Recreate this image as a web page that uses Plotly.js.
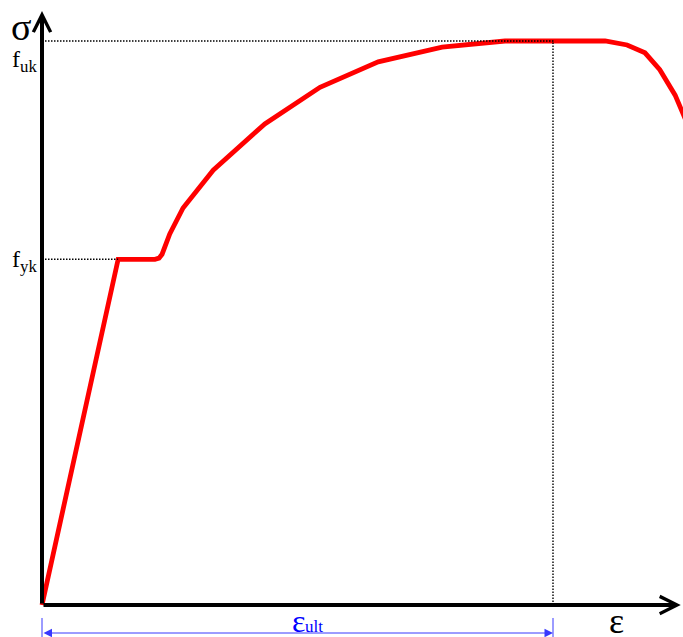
<!DOCTYPE html>
<html>
<head>
<meta charset="utf-8">
<script src="https://cdn.plot.ly/plotly-3.0.1.min.js"></script>
<style>
  html, body { margin: 0; padding: 0; background: #ffffff; }
  #chart { width: 683px; height: 637px; }
</style>
</head>
<body>
<div id="chart"></div>
<script>
// Idealised stress-strain curve of reinforcing steel (arbitrary units)
const strain = [0, 1.49, 2.21, 2.29, 2.35, 2.50, 2.76, 3.35, 4.36, 5.44, 6.58, 7.83, 9.06,
                11.02, 11.45, 11.80, 12.09, 12.39, 12.64];
const stress = [0, 61.3, 61.3, 61.5, 62.2, 65.8, 70.4, 77.1, 85.3, 91.8, 96.3, 98.9, 100,
                100, 99.3, 97.9, 94.9, 90.4, 85.1];

// Characteristic levels
const FYK = 61.3;      // yield strength
const EPS_Y = 1.49;    // strain at first yield
const FUK = 100;       // tensile strength
const EPS_ULT = 10;    // ultimate strain

// Axis extents
const X_MAX = 12.5;
const Y_MAX = 105.3;

const serif = 'Liberation Serif, Times New Roman, serif';
const blue = '#0000ff';
const lineBlue = '#3838ff';

const trace = {
  x: strain,
  y: stress,
  mode: 'lines',
  line: { color: '#ff0000', width: 4.8 },
  hoverinfo: 'skip'
};

const dotted = { color: '#000000', width: 1.4, dash: '1.5px,1.5px' };

const layout = {
  width: 683,
  height: 637,
  margin: { l: 0, r: 0, t: 0, b: 0, pad: 0 },
  paper_bgcolor: '#ffffff',
  plot_bgcolor: '#ffffff',
  showlegend: false,
  xaxis: {
    range: [-0.822, 12.544],
    visible: false,
    fixedrange: true
  },
  yaxis: {
    range: [-5.67, 107.27],
    visible: false,
    fixedrange: true
  },
  shapes: [
    // reference lines for f_uk, f_yk and eps_ult
    { type: 'line', xref: 'x', yref: 'y', x0: 0, x1: EPS_ULT + 0.04, y0: FUK, y1: FUK, line: dotted },
    { type: 'line', xref: 'x', yref: 'y', x0: 0, x1: EPS_Y, y0: FYK, y1: FYK, line: dotted },
    { type: 'line', xref: 'x', yref: 'y', x0: EPS_ULT, x1: EPS_ULT, y0: 0, y1: FUK, line: dotted },
    // extension lines of the eps_ult dimension
    { type: 'line', xref: 'x', yref: 'y', x0: 0, x1: 0, y0: -2.3, y1: -5.7, line: { color: lineBlue, width: 1 } },
    { type: 'line', xref: 'x', yref: 'y', x0: EPS_ULT, x1: EPS_ULT, y0: -2.3, y1: -5.7, line: { color: lineBlue, width: 1 } }
  ],
  annotations: [
    // vertical axis (sigma)
    { x: 0, y: Y_MAX, ax: 0, ay: 0, xref: 'x', yref: 'y', axref: 'x', ayref: 'y',
      text: '', showarrow: true, arrowhead: 5, arrowsize: 0.85, arrowwidth: 4, arrowcolor: '#000000' },
    // horizontal axis (epsilon)
    { x: X_MAX, y: 0, ax: 0, ay: 0, xref: 'x', yref: 'y', axref: 'x', ayref: 'y',
      text: '', showarrow: true, arrowhead: 5, arrowsize: 0.85, arrowwidth: 4, arrowcolor: '#000000' },
    // eps_ult dimension line
    { x: EPS_ULT, y: -4.96, ax: 0, ay: -4.96, xref: 'x', yref: 'y', axref: 'x', ayref: 'y',
      text: '', showarrow: true, arrowside: 'end+start', arrowhead: 2, arrowsize: 1.7,
      arrowwidth: 1, arrowcolor: lineBlue },
    // axis labels
    { x: -0.17, y: 102.4, xref: 'x', yref: 'y', xanchor: 'right', yanchor: 'middle',
      text: 'σ', showarrow: false, font: { family: serif, size: 38, color: '#000000' } },
    { x: 11.25, y: -2.9, xref: 'x', yref: 'y', xanchor: 'center', yanchor: 'middle',
      text: 'ε', showarrow: false, font: { family: serif, size: 36, color: '#000000' } },
    // characteristic strengths
    { x: -0.06, y: FUK - 3.6, xref: 'x', yref: 'y', xanchor: 'right', yanchor: 'middle',
      text: 'f<sub>uk</sub>', showarrow: false, font: { family: serif, size: 24, color: '#000000' } },
    { x: -0.06, y: FYK - 0.3, xref: 'x', yref: 'y', xanchor: 'right', yanchor: 'middle',
      text: 'f<sub>yk</sub>', showarrow: false, font: { family: serif, size: 24, color: '#000000' } },
    // eps_ult label
    { x: 5.18, y: -2.8, xref: 'x', yref: 'y', xanchor: 'right', yanchor: 'middle',
      text: 'ε', showarrow: false, font: { family: serif, size: 32, color: blue } },
    { x: 5.1, y: -3.8, xref: 'x', yref: 'y', xanchor: 'left', yanchor: 'middle',
      text: 'ult', showarrow: false, font: { family: serif, size: 17, color: blue } }
  ]
};

Plotly.newPlot('chart', [trace], layout, { displayModeBar: false, staticPlot: true });
</script>
</body>
</html>
